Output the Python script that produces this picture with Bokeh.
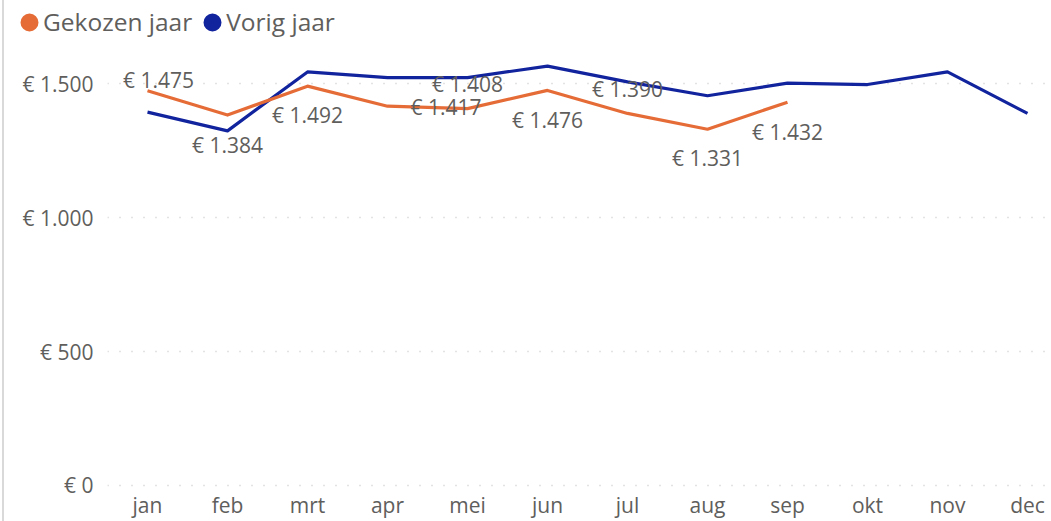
from bokeh.plotting import figure
from bokeh.layouts import column
from bokeh.models import ColumnDataSource, Range1d, FixedTicker, Legend, LegendItem
from bokeh.core.properties import value
from bokeh.embed import file_html
from bokeh.resources import INLINE

# ---- data ----
months = ["jan", "feb", "mrt", "apr", "mei", "jun", "jul", "aug", "sep", "okt", "nov", "dec"]
gekozen_jaar = [1475, 1384, 1492, 1417, 1408, 1476, 1390, 1331, 1432]
vorig_jaar = [1395, 1325, 1545, 1524, 1524, 1567, 1508, 1456, 1503, 1498, 1545, 1390]
y_ticks = [0, 500, 1000, 1500]
series_names = ["Gekozen jaar", "Vorig jaar"]

# ---- styles ----
ORANGE = "#E66C37"
BLUE = "#12239E"
TEXT = "#605E5C"
FONT = "Open Sans"

# placement of the data labels of "Gekozen jaar" (dx, dy in px, align)
label_place = [(11, -11, "center"), (0, 30, "center"), (0, 29, "center"),
               (23, 1, "left"), (0, -25, "center"), (0, 30, "center"),
               (0, -24, "center"), (0, 29, "center"), (0, 30, "center")]

def eur(v):
    return "€ " + f"{v:,}".replace(",", ".")

xs_g = list(range(len(gekozen_jaar)))
xs_v = list(range(len(vorig_jaar)))

src_g = ColumnDataSource(dict(
    x=xs_g, y=gekozen_jaar,
    label=[eur(v) for v in gekozen_jaar],
    dx=[p[0] for p in label_place], dy=[p[1] for p in label_place],
    align=[p[2] for p in label_place],
))
src_v = ColumnDataSource(dict(x=xs_v, y=vorig_jaar))

# ---- header with legend ----
head = figure(width=1047, height=40, output_backend="svg", toolbar_location=None,
              x_range=Range1d(0, 1), y_range=Range1d(0, 1),
              x_axis_type=None, y_axis_type=None,
              min_border_left=0, min_border_right=0, min_border_top=0, min_border_bottom=0)
head.outline_line_color = None
head.grid.visible = False
head.frame_align = False
dot_g = head.scatter([float("nan")], [float("nan")], marker="circle", size=8,
                     fill_color=ORANGE, line_color=ORANGE, line_width=10)
dot_v = head.scatter([float("nan")], [float("nan")], marker="circle", size=8,
                     fill_color=BLUE, line_color=BLUE, line_width=10)
legend = Legend(items=[LegendItem(label=series_names[0], renderers=[dot_g]),
                       LegendItem(label=series_names[1], renderers=[dot_v])],
                orientation="horizontal", location=(15, 2),
                glyph_width=20, glyph_height=20, label_standoff=4, spacing=10,
                padding=0, margin=0, border_line_color=None, background_fill_alpha=0,
                label_text_font=FONT, label_text_font_size="24.5px", label_text_color=TEXT)
head.add_layout(legend, "center")

# ---- main chart ----
p = figure(width=1047, height=481, output_backend="svg", toolbar_location=None,
           x_range=Range1d(-0.5, 11.3), y_range=Range1d(-7.5, 1662.5),
           min_border_left=103, min_border_right=0, min_border_top=0, min_border_bottom=0)
p.frame_align = False
p.outline_line_color = None
p.background_fill_color = "white"
p.border_fill_color = "white"

p.line("x", "y", source=src_v, line_color=BLUE, line_width=3.2, line_join="round")
p.line("x", "y", source=src_g, line_color=ORANGE, line_width=3.2, line_join="round")

p.text("x", "y", text="label", source=src_g, x_offset="dx", y_offset="dy",
       text_align="align", text_baseline="middle",
       text_font=value(FONT), text_font_size="21px", text_color=TEXT)

p.xaxis.ticker = FixedTicker(ticks=xs_v)
p.xaxis.major_label_overrides = {i: m for i, m in enumerate(months)}
p.yaxis.ticker = FixedTicker(ticks=y_ticks)
p.yaxis.major_label_overrides = {v: eur(v) for v in y_ticks}
for ax in (p.xaxis, p.yaxis):
    ax.axis_line_color = None
    ax.major_tick_line_color = None
    ax.minor_tick_line_color = None
    ax.major_tick_out = 0
    ax.major_tick_in = 0
    ax.major_label_text_font = FONT
    ax.major_label_text_font_size = "21px"
    ax.major_label_text_color = TEXT
p.yaxis.major_label_standoff = 14
p.xaxis.major_label_standoff = 3

p.xgrid.grid_line_color = None
p.ygrid.grid_line_color = "#c8c6c4"
p.ygrid.grid_line_dash = "1 11"
p.ygrid.grid_line_width = 1.5

layout = column(head, p, spacing=0,
                styles={"border-left": "2px solid #d9d9d9", "margin-left": "2px"})

open("out.html", "w").write(file_html(layout, INLINE))
